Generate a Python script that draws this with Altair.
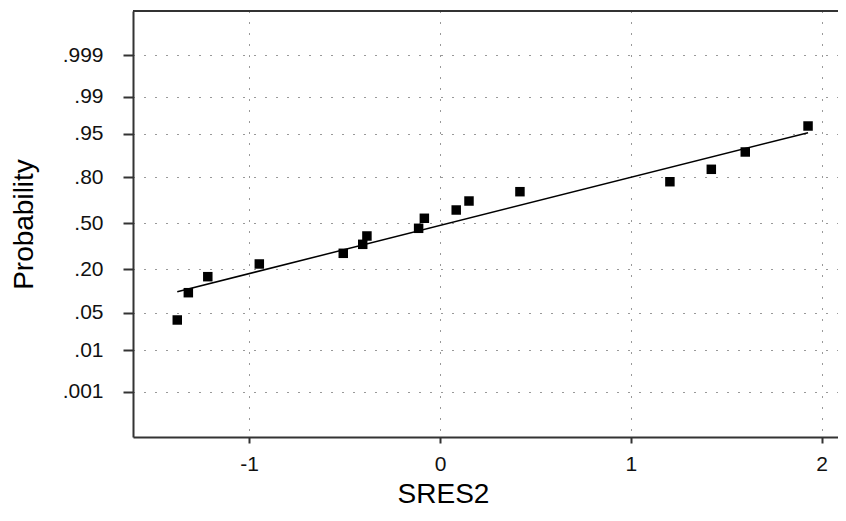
import altair as alt
import pandas as pd

# Residuals (x) and their normal scores (z of plotting position)
sres2 = [-1.377, -1.319, -1.217, -0.947, -0.507, -0.405, -0.383, -0.112,
         -0.082, 0.085, 0.152, 0.419, 1.205, 1.422, 1.600, 1.929]
zscore = [-1.774, -1.273, -0.979, -0.746, -0.550, -0.385, -0.232, -0.091,
          0.093, 0.245, 0.410, 0.581, 0.764, 0.992, 1.310, 1.787]

# Fitted line end points
line_x = [-1.377, 1.929]
line_z = [-1.255, 1.664]

# Probability axis ticks (normal quantiles) and their labels
prob_ticks = [-3.090, -2.326, -1.645, -0.8416, 0.0, 0.8416, 1.645, 2.326, 3.090]
prob_labels = [".001", ".01", ".05", ".20", ".50", ".80", ".95", ".99", ".999"]
x_ticks = [-1, 0, 1, 2]

pts = pd.DataFrame({"x": sres2, "z": zscore})
ln = pd.DataFrame({"x": line_x, "z": line_z})

W, H = 705, 426

# label expression built from the tick lists
expr = "''"
for t, lab in reversed(list(zip(prob_ticks, prob_labels))):
    expr = f"(abs(datum.value - ({t})) < 0.01 ? '{lab}' : {expr})"

xscale = alt.Scale(domain=[-1.609, 2.086], nice=False, zero=False)
yscale = alt.Scale(domain=[-3.922, 3.898], nice=False, zero=False)

FONT = "Liberation Sans"
xaxis = alt.Axis(values=x_ticks, title="SRES2", labelExpr="toString(datum.value)",
                 grid=True, gridDash=[1, 10], gridColor="#333", gridWidth=1,
                 domainColor="#333", domainWidth=2, tickColor="#333",
                 tickWidth=2, tickSize=6, labelPadding=10,
                 labelFont=FONT, labelFontSize=21, labelColor="#111",
                 titleFont=FONT, titleFontSize=28, titleFontWeight="normal",
                 titleColor="#000", titleX=310, titleY=57, titleBaseline="middle",
                 titleAlign="center")
yaxis = alt.Axis(values=prob_ticks, title="Probability", labelExpr=expr,
                 grid=True, gridDash=[1, 10], gridColor="#333", gridWidth=1,
                 domainColor="#333", domainWidth=2, tickColor="#333",
                 tickWidth=2, tickSize=10, labelPadding=20,
                 labelFont=FONT, labelFontSize=21, labelColor="#111",
                 labelBaseline="middle",
                 titleFont=FONT, titleFontSize=28, titleFontWeight="normal",
                 titleColor="#000", titleAngle=270, titleX=-109, titleY=213,
                 titleAlign="center", titleBaseline="middle")

points = alt.Chart(pts).mark_square(size=90, color="#000", opacity=1).encode(
    x=alt.X("x:Q", scale=xscale, axis=xaxis),
    y=alt.Y("z:Q", scale=yscale, axis=yaxis),
)
line = alt.Chart(ln).mark_line(color="#000", strokeWidth=1.5).encode(
    x=alt.X("x:Q", scale=xscale),
    y=alt.Y("z:Q", scale=yscale),
)
top = alt.Chart(pd.DataFrame({"a": [0]})).mark_rule(color="#333", strokeWidth=2).encode(
    x=alt.value(0), x2=alt.value(W), y=alt.value(0)
)

chart = alt.layer(line, points, top).properties(
    width=W, height=H,
    autosize=alt.AutoSizeParams(type="none"),
    padding={"left": 125, "top": 3, "right": 0, "bottom": 76},
).configure_view(stroke=None)

chart.save("out.html", embed_options={"renderer": "svg", "actions": False})
